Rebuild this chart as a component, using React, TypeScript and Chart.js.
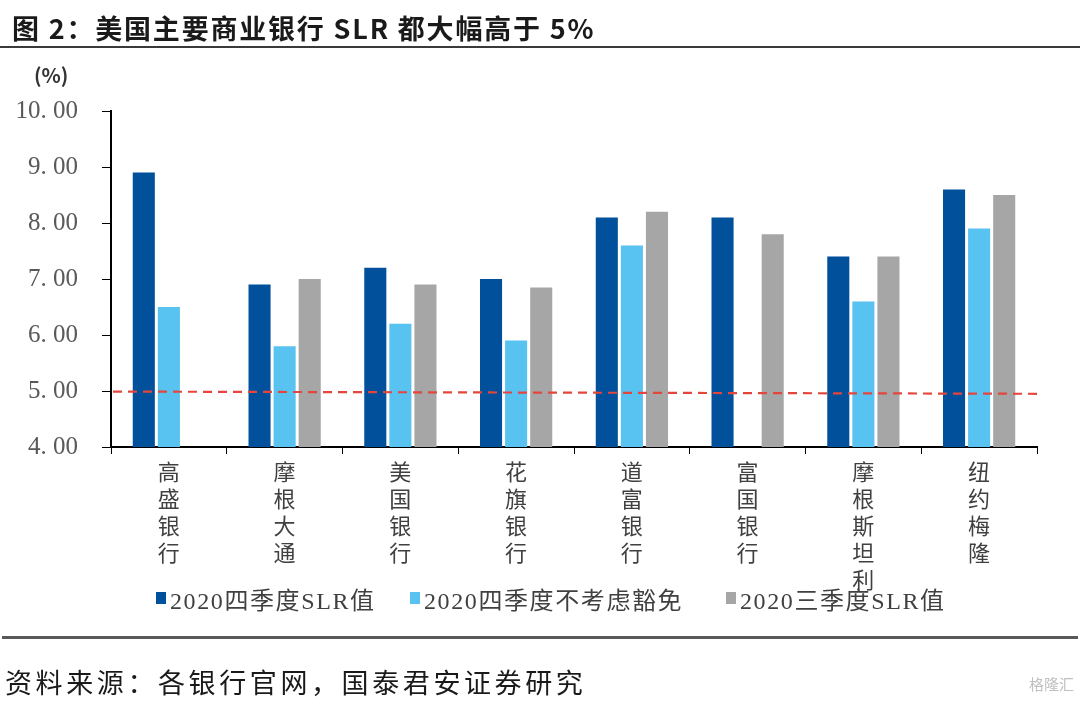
import React, { useEffect, useRef } from "react";
import { Chart, registerables } from "chart.js";

Chart.register(...registerables);

// ---- data ----
const banks = ["高盛银行", "摩根大通", "美国银行", "花旗银行", "道富银行", "富国银行", "摩根斯坦利", "纽约梅隆"];
const seriesNames = ["2020四季度SLR值", "2020四季度不考虑豁免", "2020三季度SLR值"];
const q4Slr = [8.9, 6.9, 7.2, 7.0, 8.1, 8.1, 7.4, 8.6];
const q4NoExempt = [6.5, 5.8, 6.2, 5.9, 7.6, null, 6.6, 7.9];
const q3Slr = [null, 7.0, 6.9, 6.85, 8.2, 7.8, 7.4, 8.5];
const yMin = 4;
const yMax = 10;
const yStep = 1;
const thresholdLine = [4.99, 4.95]; // left end, right end (red dashed 5% line)

const seriesColors = ["#00509B", "#58C2F0", "#A6A6A6"];
const seriesData = [q4Slr, q4NoExempt, q3Slr];

const thresholdPlugin = {
  id: "threshold",
  afterDatasetsDraw(chart: any) {
    const { ctx, chartArea, scales } = chart;
    const y = scales.y;
    ctx.save();
    ctx.strokeStyle = "#E4463D";
    ctx.lineWidth = 2.2;
    ctx.setLineDash([9, 6]);
    ctx.beginPath();
    ctx.moveTo(chartArea.left + 2, y.getPixelForValue(thresholdLine[0]));
    ctx.lineTo(chartArea.right + 6, y.getPixelForValue(thresholdLine[1]));
    ctx.stroke();
    ctx.restore();
  },
};

export default function App() {
  const ref = useRef<HTMLCanvasElement | null>(null);

  useEffect(() => {
    if (!ref.current) return;
    const chart = new Chart(ref.current, {
      type: "bar",
      data: {
        labels: banks.map((b) => b.split("")),
        datasets: seriesNames.map((name, i) => ({
          label: name,
          data: seriesData[i] as any,
          backgroundColor: seriesColors[i],
          borderWidth: 0,
          categoryPercentage: 0.65,
          barPercentage: 0.88,
        })),
      },
      options: {
        responsive: false,
        animation: false,
        devicePixelRatio: 1,
        layout: { padding: { top: 111, right: 43, left: 0, bottom: 0 } },
        plugins: {
          legend: { display: false },
          title: { display: false },
          tooltip: { enabled: false },
        },
        scales: {
          x: {
            afterFit: (s: any) => {
              s.height = 256;
            },
            grid: {
              display: true,
              drawOnChartArea: false,
              drawTicks: true,
              tickLength: 7,
              color: "#000",
              offset: true,
            },
            border: { display: true, color: "#000", width: 2 },
            ticks: {
              color: "#404040",
              padding: 4,
              maxRotation: 0,
              autoSkip: false,
              font: { family: "'Noto Sans CJK SC'", size: 22, lineHeight: "27px" },
            },
          },
          y: {
            min: yMin,
            max: yMax,
            afterFit: (s: any) => {
              s.width = 111;
            },
            grid: {
              display: true,
              drawOnChartArea: false,
              drawTicks: true,
              tickLength: 9,
              color: "#000",
            },
            border: { display: true, color: "#000", width: 2 },
            ticks: {
              stepSize: yStep,
              padding: 24,
              color: "#595959",
              font: { family: "'Liberation Serif'", size: 25 },
              callback: (v: any) => Number(v).toFixed(2).replace(".", ". "),
            },
          },
        },
      },
      plugins: [thresholdPlugin],
    });
    return () => chart.destroy();
  }, []);

  const legendLefts = [156, 410, 726];

  return (
    <div
      style={{
        position: "fixed",
        left: 0,
        top: 0,
        width: 1080,
        height: 703,
        background: "#fff",
        overflow: "hidden",
        fontFamily: "'Noto Sans CJK SC', sans-serif",
      }}
    >
      <canvas
        ref={ref}
        width={1080}
        height={703}
        style={{ position: "absolute", left: 0, top: 0, width: 1080, height: 703, display: "block" }}
      />
      <div
        style={{
          position: "absolute",
          left: 12,
          top: 10,
          lineHeight: "36px",
          fontSize: 27,
          fontWeight: 700,
          letterSpacing: 1.8,
          color: "#1a1a1a",
          whiteSpace: "nowrap",
        }}
      >
        图 2：美国主要商业银行 SLR 都大幅高于 5%
      </div>
      <div style={{ position: "absolute", left: 0, top: 46, width: 1080, height: 2, background: "#3a3a3a" }} />
      <div
        style={{
          position: "absolute",
          left: 34,
          top: 61,
          lineHeight: "28px",
          fontSize: 20,
          fontWeight: 700,
          color: "#333",
        }}
      >
        (%)
      </div>
      {seriesNames.map((name, i) => (
        <div
          key={name}
          style={{
            position: "absolute",
            left: legendLefts[i],
            top: 582,
            height: 32,
            display: "flex",
            alignItems: "center",
            whiteSpace: "nowrap",
          }}
        >
          <span style={{ display: "inline-block", width: 10, height: 12, background: seriesColors[i], marginRight: 4 }} />
          <span
            style={{
              fontFamily: "'Liberation Serif', 'Noto Sans CJK SC'",
              fontSize: 24,
              color: "#404040",
              letterSpacing: 1.6,
            }}
          >
            {name}
          </span>
        </div>
      ))}
      <div style={{ position: "absolute", left: 2, top: 636, width: 1076, height: 3, background: "#595959" }} />
      <div
        style={{
          position: "absolute",
          left: 5,
          top: 664,
          lineHeight: "36px",
          fontSize: 27,
          letterSpacing: 3.6,
          color: "#1a1a1a",
          whiteSpace: "nowrap",
        }}
      >
        资料来源：各银行官网，国泰君安证券研究
      </div>
      <div
        style={{
          position: "absolute",
          right: 6,
          top: 674,
          lineHeight: "20px",
          fontSize: 15,
          color: "#c0c0c0",
          whiteSpace: "nowrap",
        }}
      >
        格隆汇
      </div>
    </div>
  );
}
